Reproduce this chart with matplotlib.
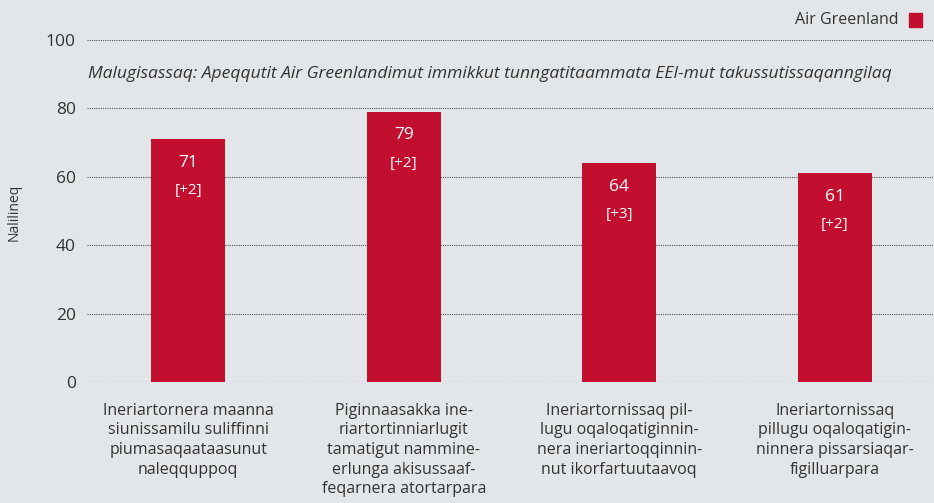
import numpy as np
import matplotlib
matplotlib.use('Agg')
from matplotlib import pyplot as plt

categories = [
    'Ineriartornera maanna\nsiunissamilu suliffinni\npiumasaqaataasunut\nnaleqquppoq',
    'Piginnaasakka ine-\nriartortinniarlugit\ntamatigut nammine-\nerlunga akisussaaf-\nfeqarnera atortarpara',
    'Ineriartornissaq pil-\nlugu oqaloqatiginnin-\nnera ineriartoqqinnin-\nnut ikorfartuutaavoq',
    'Ineriartornissaq\npillugu oqaloqatigin-\nninnera pissarsiaqar-\nfigilluarpara',
]
values = [71, 79, 64, 61]
changes = ['[+2]', '[+2]', '[+3]', '[+2]']
yticks = [0, 20, 40, 60, 80, 100]
series_name = 'Air Greenland'
note = 'Malugisassaq: Apeqqutit Air Greenlandimut immikkut tunngatitaammata EEI-mut takussutissaqanngilaq'
ylabel = 'Nalilineq'

bg = '#e2e6e9'
red = '#c30f2f'
txt = '#333333'

plt.rcParams['font.family'] = ['Open Sans', 'DejaVu Sans']

fig = plt.figure(figsize=(9.34, 5.03), dpi=100, facecolor=bg)
ax = fig.add_axes([0.093, 0.2406, 0.907, 0.68])
ax.set_facecolor(bg)

x = np.arange(len(values))
ax.bar(x, values, width=0.345, color=red, zorder=2)

ax.set_ylim(0, 100)
ax.set_xlim(-0.47, 3.46)
ax.set_yticks(yticks)
ax.yaxis.grid(True, linestyle=(0, (1, 1)), color='#555555', linewidth=0.8, zorder=1)
for s in ax.spines.values():
    s.set_visible(False)
ax.tick_params(axis='y', length=0, pad=8, labelsize=12.5, labelcolor=txt)
ax.set_yticklabels([str(v) for v in yticks])
ax.set_xticks(x)
ax.set_xticklabels(categories, fontsize=11.5, color=txt, linespacing=1.3)
ax.tick_params(axis='x', length=0, pad=15)

for xi, v, c in zip(x, values, changes):
    ax.annotate(str(v), (xi, v), xytext=(0, -17), textcoords='offset points',
                ha='center', va='center', color='white', fontsize=12.5)
    ax.annotate(c, (xi, v), xytext=(0, -37), textcoords='offset points',
                ha='center', va='center', color='white', fontsize=11)

fig.text(0.0943, 0.853, note, fontsize=12.6, style='italic', color=txt, va='center')
fig.text(0.015, 0.578, ylabel, rotation=90, fontsize=10, color=txt, va='center', ha='center')

# legend
fig.text(0.962, 0.96, series_name, fontsize=11.5, color=txt, ha='right', va='center')
fig.patches.append(matplotlib.patches.Rectangle((0.9733, 0.946), 0.014, 0.028,
                                                transform=fig.transFigure, color=red))

fig.savefig('out.png', dpi=100, facecolor=bg)
